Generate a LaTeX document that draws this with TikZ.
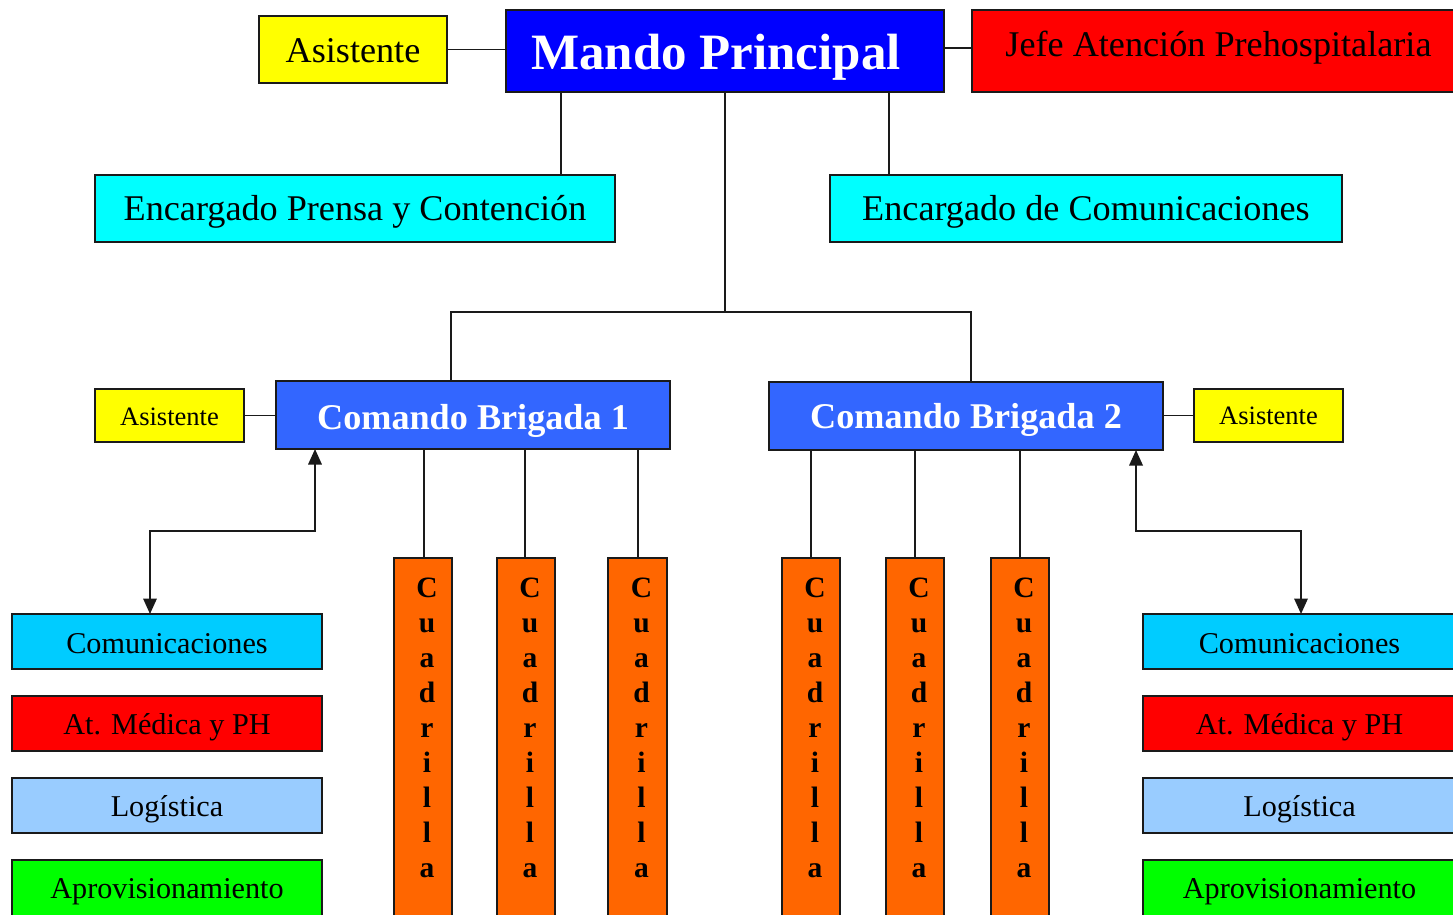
\documentclass[tikz,border=0pt]{standalone}
\usepackage{fontspec}
\setmainfont{Liberation Serif}
\usetikzlibrary{arrows.meta}
\definecolor{cYel}{HTML}{FFFF00}
\definecolor{cMando}{HTML}{0000FF}
\definecolor{cRed}{HTML}{FF0000}
\definecolor{cCyan}{HTML}{00FFFF}
\definecolor{cCB}{HTML}{3366FF}
\definecolor{cOr}{HTML}{FF6600}
\definecolor{cCom}{HTML}{00CCFF}
\definecolor{cLog}{HTML}{99CCFF}
\definecolor{cApr}{HTML}{00FF00}
\definecolor{cLine}{HTML}{1A1A1A}
\newcommand\szMando{\fontsize{29}{34}\selectfont}
\newcommand\szBig{\fontsize{20.6}{24}\selectfont}
\newcommand\szMid{\fontsize{17.2}{20}\selectfont}
\newcommand\szSmall{\fontsize{15.1}{18}\selectfont}
% name, x1, y1, x2, y2, baseline, style, text   (pixel units)
\newcommand\orgbox[8]{%
  \pgfmathsetmacro\bxw{(#4-#2)*0.02}%
  \pgfmathsetmacro\bxh{(#5-#3)*0.02}%
  \pgfmathsetmacro\bxt{2*(#6-(#3+#5)/2)*0.02}%
  \pgfmathsetmacro\bxcx{(#2+#4)/2}%
  \pgfmathsetmacro\bxcy{(#3+#5)/2}%
  \node[box,#7,minimum width=\bxw cm,minimum height=\bxh cm,
        text height=\bxt cm,text depth=0pt] (#1) at (\bxcx,\bxcy) {#8};}
% name, x1, x2
\newcommand\cuadbox[3]{%
  \pgfmathsetmacro\bxw{(#3-#2)*0.02}%
  \pgfmathsetmacro\bxcx{(#2+#3)/2}%
  \node[box,fill=cOr,minimum width=\bxw cm,minimum height=7.44cm,
        label={[cuadtxt]north:{C\\u\\a\\d\\r\\i\\l\\l\\a}}] (#1) at (\bxcx,744) {};}
\begin{document}
\begin{tikzpicture}[x=0.02cm,y=-0.02cm,
  box/.style={draw=cLine,line width=0.04cm,inner sep=0pt,outer sep=0pt},
  conn/.style={draw=cLine,line width=0.035cm},
  dbl/.style={conn,{Triangle[width=0.27cm,length=0.31cm]}-{Triangle[width=0.27cm,length=0.31cm]}},
  cuadtxt/.style={anchor=north,align=center,inner sep=0pt,yshift=-0.4cm,xshift=0.08cm,
     font=\fontsize{16.8}{19.9}\selectfont\bfseries}]
\useasboundingbox (0,0) rectangle (1453,914);
\clip (0,0) rectangle (1453,914);
\fill[white] (0,0) rectangle (1453,914);

\orgbox{asis0}{259}{16}{447}{83}{62}{fill=cYel,font=\szBig}{Asistente}
\orgbox{mando}{506}{10}{944}{92}{69}{fill=cMando,text=white,font=\szMando\bfseries}{Mando Principal\kern0.36cm\relax}
\orgbox{jefe}{972}{10}{1465}{92}{56}{fill=cRed,font=\szBig}{Jefe Atención Prehospitalaria}
\orgbox{encP}{95}{175}{615}{242}{220.5}{fill=cCyan,font=\szBig}{Encargado Prensa y Contención}
\orgbox{encC}{830}{175}{1342}{242}{220.5}{fill=cCyan,font=\szBig}{Encargado de Comunicaciones}
\orgbox{cb1}{276}{381}{670}{449}{429}{fill=cCB,text=white,font=\szBig\bfseries}{Comando Brigada 1}
\orgbox{cb2}{769}{382}{1163}{450}{428.5}{fill=cCB,text=white,font=\szBig\bfseries}{Comando Brigada 2}
\orgbox{asis1}{95}{389}{244}{442}{425}{fill=cYel,font=\szSmall}{Asistente}
\orgbox{asis2}{1194}{389}{1343}{442}{424.5}{fill=cYel,font=\szSmall}{Asistente}

\orgbox{com1}{12}{614}{322}{669}{653}{fill=cCom,font=\szMid}{Comunicaciones}
\orgbox{med1}{12}{696}{322}{751}{734}{fill=cRed,font=\szMid}{At. Médica y PH}
\orgbox{log1}{12}{778}{322}{833}{816}{fill=cLog,font=\szMid}{Logística}
\orgbox{apr1}{12}{860}{322}{916}{898}{fill=cApr,font=\szMid}{Aprovisionamiento}
\orgbox{com2}{1143}{614}{1456}{669}{653}{fill=cCom,font=\szMid}{Comunicaciones}
\orgbox{med2}{1143}{696}{1456}{751}{734}{fill=cRed,font=\szMid}{At. Médica y PH}
\orgbox{log2}{1143}{778}{1456}{833}{816}{fill=cLog,font=\szMid}{Logística}
\orgbox{apr2}{1143}{860}{1456}{916}{898}{fill=cApr,font=\szMid}{Aprovisionamiento}

\cuadbox{q1}{394}{452}
\cuadbox{q2}{497}{555}
\cuadbox{q3}{608}{667}
\cuadbox{q4}{782}{840}
\cuadbox{q5}{886}{944}
\cuadbox{q6}{991}{1049}

% connectors
\coordinate (v1) at (561,0);
\coordinate (v3) at (889,0);
\coordinate (barM) at (725,312);
\coordinate (barL) at (451,312);
\coordinate (barR) at (971,312);
\coordinate (jl) at (0,48);
\draw[conn] (asis0.east) -- (asis0.east -| mando.west);
\draw[conn] (mando.east |- jl) -- (jefe.west |- jl);
\draw[conn] (mando.south -| v1) -- (encP.north -| v1);
\draw[conn] (mando.south -| v3) -- (encC.north -| v3);
\draw[conn] (mando.south -| barM) -- (barM);
\draw[conn] (cb1.north -| barL) -- (barL) -- (barR) -- (cb2.north -| barR);
\draw[conn] (asis1.east) -- (asis1.east -| cb1.west);
\draw[conn] (cb2.east |- asis2.west) -- (asis2.west);

\coordinate (k1) at (424,0);
\coordinate (k2) at (525,0);
\coordinate (k3) at (638,0);
\coordinate (k4) at (811,0);
\coordinate (k5) at (915,0);
\coordinate (k6) at (1020,0);
\draw[conn] (cb1.south -| k1) -- (q1.north -| k1);
\draw[conn] (cb1.south -| k2) -- (q2.north -| k2);
\draw[conn] (cb1.south -| k3) -- (q3.north -| k3);
\draw[conn] (cb2.south -| k4) -- (q4.north -| k4);
\draw[conn] (cb2.south -| k5) -- (q5.north -| k5);
\draw[conn] (cb2.south -| k6) -- (q6.north -| k6);

\coordinate (L1) at (315,531);
\coordinate (L2) at (150,531);
\coordinate (R1) at (1136,531);
\coordinate (R2) at (1301,531);
\draw[dbl] (cb1.south -| L1) -- (L1) -- (L2) -- (com1.north -| L2);
\draw[dbl] (cb2.south -| R1) -- (R1) -- (R2) -- (com2.north -| R2);
\end{tikzpicture}
\end{document}
